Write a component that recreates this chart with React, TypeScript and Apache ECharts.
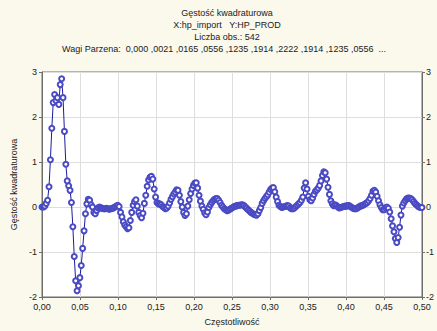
import React, { useEffect, useRef } from "react";
import * as echarts from "echarts";

const N_OBS = 542;
const TITLE_LINES = [
  "Gęstość kwadraturowa",
  "X:hp_import   Y:HP_PROD",
  "Liczba obs.: 542",
  "Wagi Parzena:  0,000 ,0021 ,0165 ,0556 ,1235 ,1914 ,2222 ,1914 ,1235 ,0556  ...",
];
const X_NAME = "Częstotliwość";
const Y_NAME = "Gęstość kwadraturowa";

// quadrature density at frequency index k (frequency = k / N_OBS)
const density: number[] = [
  0.0, 0.0, 0.02, 0.08, 0.15, 0.45, 1.05, 1.75, 2.32, 2.5,
  2.36, 2.43, 2.28, 2.72, 2.85, 2.43, 1.68, 0.95, 0.58, 0.47,
  0.37, 0.1, -0.44, -1.1, -1.64, -1.86, -1.75, -1.57, -1.3, -0.92,
  -0.53, -0.15, 0.07, 0.17, 0.15, 0.05, 0.0, -0.12, -0.15, -0.08,
  -0.02, 0.0, -0.02, -0.03, -0.04, -0.04, -0.03, -0.04, -0.05, -0.04,
  -0.03, -0.02, 0.0, 0.02, 0.04, 0.01, -0.12, -0.22, -0.33, -0.4,
  -0.44, -0.48, -0.46, -0.3, -0.12, 0.04, 0.12, 0.16, 0.02, -0.12,
  -0.19, -0.24, -0.14, 0.08, 0.26, 0.46, 0.6, 0.66, 0.68, 0.62,
  0.4, 0.22, 0.1, 0.07, 0.07, 0.05, 0.01, -0.01, -0.04, -0.02,
  0.02, 0.09, 0.17, 0.23, 0.29, 0.33, 0.38, 0.37, 0.26, 0.12,
  0.0, -0.12, -0.19, -0.15, 0.02, 0.16, 0.3, 0.4, 0.48, 0.53,
  0.54, 0.42, 0.26, 0.13, 0.02, -0.05, -0.13, -0.17, -0.11, -0.01,
  0.05, 0.1, 0.14, 0.17, 0.19, 0.19, 0.15, 0.1, 0.04, 0.0,
  -0.04, -0.06, -0.08, -0.07, -0.05, -0.03, -0.01, 0.01, 0.02, 0.03,
  0.04, 0.04, 0.05, 0.05, 0.03, 0.0, -0.03, -0.06, -0.09, -0.12,
  -0.14, -0.16, -0.17, -0.18, -0.15, -0.08, -0.01, 0.08, 0.14, 0.19,
  0.23, 0.27, 0.33, 0.39, 0.42, 0.43, 0.34, 0.22, 0.12, 0.04,
  0.01, -0.01, 0.0, 0.01, 0.02, 0.03, 0.02, -0.02, -0.04, -0.04,
  -0.02, 0.01, 0.04, 0.07, 0.1, 0.15, 0.22, 0.42, 0.54, 0.4,
  0.24, 0.16, 0.14, 0.2, 0.28, 0.35, 0.38, 0.42, 0.48, 0.58,
  0.7, 0.78, 0.76, 0.62, 0.44, 0.28, 0.14, 0.07, 0.03, 0.05,
  0.03, 0.0, -0.02, -0.01, 0.0, 0.01, 0.02, 0.02, 0.03, 0.03,
  0.01, -0.01, -0.03, -0.04, -0.04, -0.02, 0.0, 0.02, 0.03, 0.04,
  0.06, 0.08, 0.1, 0.14, 0.19, 0.26, 0.35, 0.37, 0.33, 0.24,
  0.14, 0.05, -0.01, -0.06, -0.06, -0.02, 0.0, -0.03, -0.11, -0.26,
  -0.42, -0.55, -0.7, -0.79, -0.68, -0.45, -0.18, 0.02, 0.09, 0.14,
  0.18, 0.2, 0.2, 0.19, 0.16, 0.12, 0.08, 0.05, 0.02, 0.0,
  -0.01, -0.01,
];

const X_MIN = 0;
const X_MAX = 0.5;
const X_STEP = 0.05;
const Y_MIN = -2;
const Y_MAX = 3;
const Y_STEP = 1;

const FONT = "Liberation Sans, Arial, sans-serif";

export default function App() {
  const ref = useRef<HTMLDivElement>(null);
  useEffect(() => {
    if (!ref.current) return;
    const chart = echarts.init(ref.current, undefined, { renderer: "svg" });
    const data = density.map((v, k) => [k / N_OBS, v]);
    const fmtX = (v: number) => v.toFixed(2).replace(".", ",");
    const axisLabel = { color: "#222", fontSize: 9, fontFamily: FONT };
    const splitLine = { show: true, lineStyle: { color: "#dedede", width: 1 } };
    const titles = TITLE_LINES.map((t, i) =>
      i === 3
        ? {
            type: "text",
            left: 62,
            top: 8 + i * 12,
            style: { text: t, fontSize: 9, fontFamily: FONT, fill: "#222" },
          }
        : {
            type: "text",
            x: 227,
            y: 8 + i * 12,
            style: {
              text: t,
              fontSize: 9,
              fontFamily: FONT,
              fill: "#222",
              textAlign: "center",
              textVerticalAlign: "top",
            },
          }
    );
    chart.setOption({
      animation: false,
      backgroundColor: "#fbf8ec",
      grid: {
        left: 42,
        right: 8,
        top: 72,
        bottom: 29,
        show: true,
        backgroundColor: "#ffffff",
        borderColor: "#6e6e6e",
        borderWidth: 1,
      },
      graphic: titles,
      xAxis: {
        type: "value",
        min: X_MIN,
        max: X_MAX,
        interval: X_STEP,
        name: X_NAME,
        nameLocation: "middle",
        nameGap: 20,
        nameTextStyle: { color: "#222", fontSize: 9, fontFamily: FONT },
        axisLine: { show: true, onZero: false, lineStyle: { color: "#6e6e6e" } },
        axisTick: { show: true, length: 3, lineStyle: { color: "#6e6e6e" } },
        axisLabel: { ...axisLabel, margin: 5, formatter: fmtX },
        splitLine,
      },
      yAxis: [
        {
          type: "value",
          min: Y_MIN,
          max: Y_MAX,
          interval: Y_STEP,
          name: Y_NAME,
          nameLocation: "middle",
          nameGap: 24,
          nameTextStyle: { color: "#222", fontSize: 9, fontFamily: FONT },
          axisLine: { show: true, lineStyle: { color: "#6e6e6e" } },
          axisTick: { show: true, length: 3, lineStyle: { color: "#6e6e6e" } },
          axisLabel: { ...axisLabel, margin: 5 },
          splitLine,
        },
        {
          type: "value",
          position: "right",
          min: Y_MIN,
          max: Y_MAX,
          interval: Y_STEP,
          axisLine: { show: true, lineStyle: { color: "#6e6e6e" } },
          axisTick: { show: true, length: 3, lineStyle: { color: "#6e6e6e" } },
          axisLabel: { ...axisLabel, margin: 4 },
          splitLine: { show: false },
        },
      ],
      series: [
        {
          type: "line",
          data,
          symbol: "emptyCircle",
          symbolSize: 5,
          showAllSymbol: true,
          itemStyle: { color: "#4a4ac4", borderColor: "#4a4ac4", borderWidth: 0.9 },
          lineStyle: { color: "#1c1c9c", width: 1 },
        },
      ],
    });
    return () => chart.dispose();
  }, []);
  return (
    <div
      ref={ref}
      style={{ position: "fixed", left: 0, top: 0, width: 437, height: 331 }}
    />
  );
}
